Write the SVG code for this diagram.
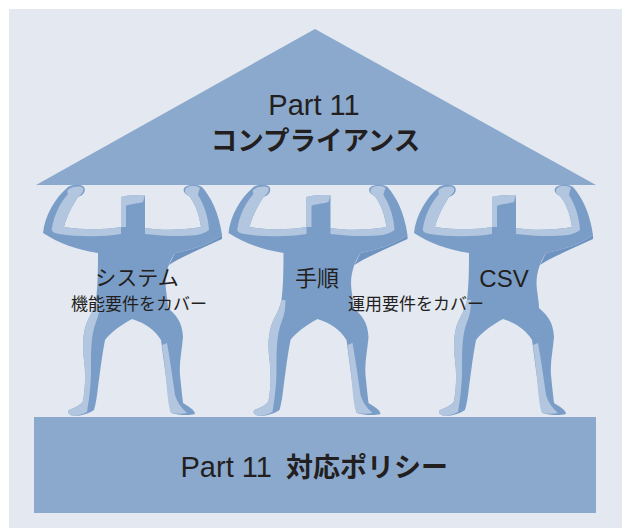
<svg xmlns="http://www.w3.org/2000/svg" xmlns:xlink="http://www.w3.org/1999/xlink" width="622" height="528" viewBox="0 0 622 528">
  <style>
    .panel { fill: #e3e8f1; }
    .slab { fill: #8ba9cd; }
    .body { fill: #7a9dc7; }
    .hi { fill: #b2c6df; }
    .shade { fill: #6f93c0; }
    .t { font-family: "Liberation Sans", "Noto Sans CJK JP", sans-serif; fill: #231f20; }
    .jp { font-family: "Noto Sans CJK JP", "Liberation Sans", sans-serif; fill: #231f20; }
    .b { font-weight: bold; }
  </style>
  <defs>
    <!-- one strongman, centred on x=0, fists pressing up against the roof at y=185 -->
    <g id="strongman">
      <path class="body" d="M -65 187 C -60 184 -52 184 -49 187 C -47 191 -49 195 -55 197
        C -60 205 -66 215 -69 227 C -50 230 -30 230 -12 227 L -12 197
        C -4 195 4 195 12 195 L 12 228 C 30 231 50 230 68 227
        C 66 214 62 203 56 196 C 51 194 49 190 52 187 C 57 184 64 184 69 187
        C 78 197 86 213 89 235 C 75 245 58 250 42 253
        C 36 262 31 275 33 290 C 34 298 35 303 35 308
        C 44 316 49 322 50 337 C 49 350 46 362 47 375 C 48 385 49 395 50 403
        C 55 406 62 410 62 414 C 55 416 45 415 38 413
        C 37 404 35 395 34 385 C 32 370 30 355 28 340 C 22 330 12 323 -1 319
        C -12 325 -22 332 -28 340 C -31 355 -33 372 -35 387 C -36 396 -37 403 -39 410
        C -45 414 -53 416 -60 416 C -65 414 -66 412 -64 410 C -57 407 -52 405 -50 401
        C -48 390 -47 375 -49 360 C -51 345 -50 330 -45 320 C -42 314 -39 309 -37 300
        C -35 285 -35 265 -35 253 C -55 250 -75 243 -90 233
        C -88 215 -78 198 -65 187 Z"/>
      <!-- light edges along arms, head and legs -->
      <path class="hi" d="M -64 189 C -59 186 -53 186 -50 188 C -49 191 -51 194 -55 197
        C -60 205 -66 215 -69 227 C -50 230 -30 230 -12 227 L -12 234
        C -30 237 -55 237 -74 234 C -80 233 -82 231 -81 228
        C -79 215 -73 203 -65 194 C -66 192 -66 190 -64 189 Z"/>
      <path class="hi" d="M 53 188 C 57 185 63 185 67 188 C 66 191 65 193 65 195
        C 71 205 75 215 76 230 C 72 233 68 234 64 235 C 45 237 30 236 12 234
        L 12 228 C 30 231 50 230 68 227 C 66 214 62 203 56 196
        C 52 194 51 191 53 188 Z"/>
      <path class="hi" d="M -12 197 C -4 195 4 195 12 195 L 10 202 C 3 204 -4 204 -7 206
        L -7 227 L -12 227 Z"/>
      <path class="hi" d="M -37 300 C -39 309 -42 314 -45 320 C -50 330 -51 345 -49 360
        C -47 375 -48 390 -50 401 C -52 405 -57 407 -64 410 C -66 412 -65 414 -60 416
        C -55 416 -50 414 -46 412 C -44 400 -42 385 -42 370 C -42 350 -42 335 -37 322
        C -34 315 -33 308 -33 300 Z"/>
      <path class="hi" d="M 29 345 C 31 360 33 375 34 390 C 35 400 36 408 38 413
        C 44 414 50 414 54 413 C 48 408 44 402 42 395 C 40 380 37 360 34 343 Z"/>
      <path class="shade" d="M 89 235 C 75 245 58 250 42 253 C 40 257 38 261 36 265
        C 48 257 70 248 89 239 Z"/>
    </g>
  </defs>

  <rect class="panel" x="9" y="9" width="613" height="519"/>

  <g id="roof">
    <polygon class="slab" points="315,29 596,185 36,185"/>
    <text class="t" x="314" y="115" font-size="29" text-anchor="middle">Part 11</text>
    <text class="jp b" x="315.5" y="150" font-size="26.5" text-anchor="middle">コンプライアンス</text>
  </g>

  <!-- pillars, right to left so each caption sits above its neighbour -->
  <g id="pillar-csv">
    <use xlink:href="#strongman" x="504" y="0"/>
    <text class="t" x="504" y="287" font-size="24" text-anchor="middle">CSV</text>
  </g>

  <g id="pillar-procedure">
    <use xlink:href="#strongman" x="318.5" y="0"/>
    <text class="jp" x="317" y="286" font-size="22" text-anchor="middle">手順</text>
    <text class="jp" x="416" y="310" font-size="17" text-anchor="middle">運用要件をカバー</text>
  </g>

  <g id="pillar-system">
    <use xlink:href="#strongman" x="133" y="0"/>
    <text class="jp" x="137" y="285" font-size="21" text-anchor="middle">システム</text>
    <text class="jp" x="139" y="310" font-size="17" text-anchor="middle">機能要件をカバー</text>
  </g>

  <g id="foundation">
    <rect class="slab" x="34" y="417" width="562" height="96"/>
    <text class="t" x="180.5" y="477" font-size="29">Part 11<tspan class="jp b" x="286" font-size="27">対応ポリシー</tspan></text>
  </g>

  <g id="connectors"/>
</svg>
